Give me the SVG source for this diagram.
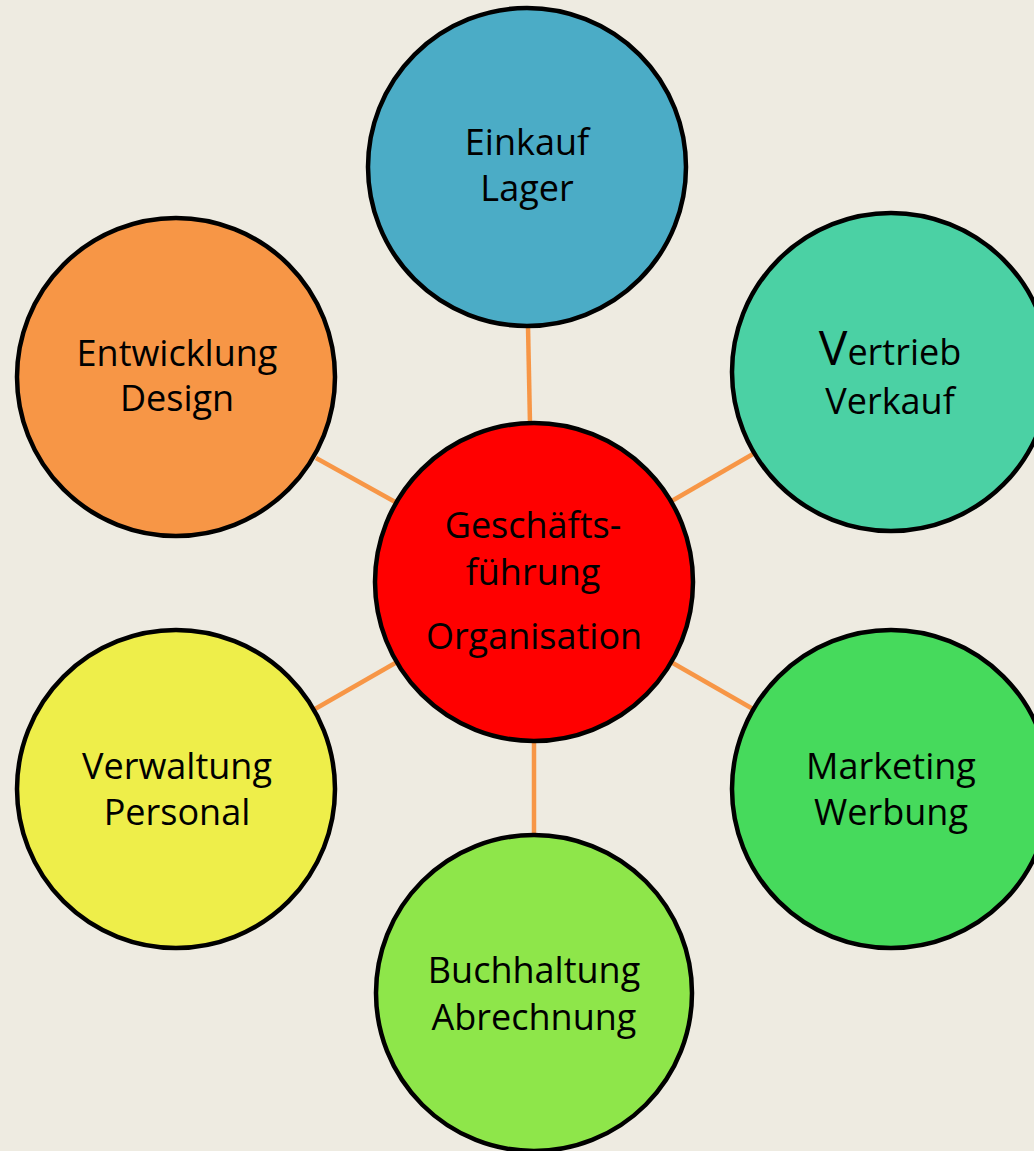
<svg xmlns="http://www.w3.org/2000/svg" width="1034" height="1151" viewBox="0 0 1034 1151">
  <style>
    .node { stroke: #000; stroke-width: 4.5; }
    .link { stroke: #F79646; stroke-width: 4.5; fill: none; }
    .label { font-family: "Open Sans", "Noto Sans", sans-serif; font-size: 36px; fill: #000; text-anchor: middle; }
  </style>
  <rect width="1034" height="1151" fill="#EEEBE1"/>

  <g id="connectors">
    <line class="link" x1="530" y1="424" x2="528" y2="326"/>
    <line class="link" x1="534" y1="742" x2="534" y2="836"/>
    <line class="link" x1="397" y1="503" x2="316" y2="458"/>
    <line class="link" x1="670" y1="502" x2="753" y2="454"/>
    <line class="link" x1="397" y1="662" x2="315" y2="709"/>
    <line class="link" x1="671" y1="662" x2="753" y2="709"/>
  </g>

  <g id="node-einkauf">
    <circle class="node" cx="527" cy="167" r="159" fill="#4BACC6"/>
    <text class="label" x="527" y="155">Einkauf</text>
    <text class="label" x="527" y="201">Lager</text>
  </g>

  <g id="node-entwicklung">
    <circle class="node" cx="176" cy="377" r="159" fill="#F79646"/>
    <text class="label" x="177" y="366">Entwicklung</text>
    <text class="label" x="177" y="411">Design</text>
  </g>

  <g id="node-vertrieb">
    <circle class="node" cx="891" cy="372" r="159" fill="#4BD1A4"/>
    <text class="label" x="890" y="365"><tspan font-size="48px">V</tspan>ertrieb</text>
    <text class="label" x="890" y="414">Verkauf</text>
  </g>

  <g id="node-geschaeftsfuehrung">
    <circle class="node" cx="534" cy="582" r="159" fill="#FF0000"/>
    <text class="label" x="533" y="538">Geschäfts-</text>
    <text class="label" x="533" y="585">führung</text>
    <text class="label" x="534" y="649">Organisation</text>
  </g>

  <g id="node-verwaltung">
    <circle class="node" cx="176" cy="789" r="159" fill="#EEEE4A"/>
    <text class="label" x="177" y="779">Verwaltung</text>
    <text class="label" x="177" y="825">Personal</text>
  </g>

  <g id="node-marketing">
    <circle class="node" cx="891" cy="789" r="159" fill="#46DA5C"/>
    <text class="label" x="891" y="779">Marketing</text>
    <text class="label" x="891" y="825">Werbung</text>
  </g>

  <g id="node-buchhaltung">
    <circle class="node" cx="534" cy="993" r="158" fill="#8EE64A"/>
    <text class="label" x="534" y="983">Buchhaltung</text>
    <text class="label" x="534" y="1030">Abrechnung</text>
  </g>
</svg>
